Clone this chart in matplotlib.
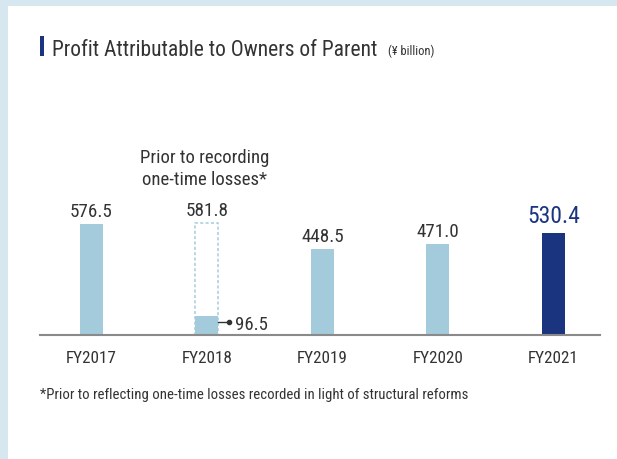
import matplotlib
matplotlib.use("Agg")
import matplotlib.pyplot as plt
from matplotlib.patches import Rectangle

categories = ["FY2017", "FY2018", "FY2019", "FY2020", "FY2021"]
values = [576.5, 96.5, 448.5, 471.0, 530.4]
prior_fy2018 = 581.8
title = "Profit Attributable to Owners of Parent"
unit = "(¥ billion)"
note_prior = "Prior to recording\none-time losses*"
footnote = "*Prior to reflecting one-time losses recorded in light of structural reforms"

plt.rcParams['font.family'] = ["Roboto Condensed", 'DejaVu Sans']

W, H = 617, 460
fig = plt.figure(figsize=(W / 100, H / 100), dpi=100)
fig.patch.set_facecolor("#d6e7f0")
fig.patches.append(Rectangle((8 / W, 0), 1, 1 - 7 / H, transform=fig.transFigure,
                             facecolor="white", edgecolor="none", zorder=-10))
# title marker
fig.patches.append(Rectangle((40 / W, 1 - 57 / H), 4 / W, 20 / H, transform=fig.transFigure,
                             facecolor="#1b3480", edgecolor="none", zorder=-5))
txt = "#333333"
fig.text(52 / W, 1 - 56 / H, title, fontsize=15.5, color=txt, va="baseline", ha="left")
fig.text(388 / W, 1 - 55.5 / H, unit, fontsize=9, color=txt, va="baseline", ha="left")

light = "#a4cbdc"
dark = "#1b3480"

cx0 = 91.5
step = 115.45
base = 335.7
pxu = 110.7 / 576.5
x0 = (40.5 - cx0) / step
x1 = (600 - cx0) / step
ymax = 700
ax = fig.add_axes([40.5 / W, 1 - base / H, (600 - 40.5) / W, ymax * pxu / H])
ax.set_zorder(5)
ax.set_xlim(x0, x1)
ax.set_ylim(0, ymax)
ax.set_facecolor("none")
for s in ["top", "right", "left"]:
    ax.spines[s].set_visible(False)
ax.spines["bottom"].set_color("#8a8a8a")
ax.spines["bottom"].set_linewidth(1.5)
ax.set_yticks([])
ax.set_xticks(range(len(categories)))
ax.set_xticklabels(categories, fontsize=12.3, color=txt)
ax.tick_params(axis="x", length=0, pad=11)

bw = 0.2
colors = [light, light, light, light, dark]
ax.bar(range(len(categories)), values, width=bw, color=colors, zorder=2)
# dashed outline for FY2018 prior value
ax.bar(1, prior_fy2018, width=bw, facecolor="none", edgecolor=light,
       linestyle=(0, (2, 1.5)), linewidth=1.1, zorder=1)

for i, v in enumerate(values):
    if i == 1:
        continue
    if i == len(values) - 1:
        ax.annotate(f"{v:.1f}", (i, v), xytext=(0, 8), textcoords="offset points",
                    ha="center", va="baseline", fontsize=17, color=dark)
    else:
        ax.annotate(f"{v:.1f}", (i, v), xytext=(0, 5.8), textcoords="offset points",
                    ha="center", va="baseline", fontsize=13.8, color=txt)

ax.annotate(f"{prior_fy2018:.1f}", (1, prior_fy2018), xytext=(0, 5.8), textcoords="offset points",
            ha="center", va="baseline", fontsize=13.8, color=txt)
ax.annotate(note_prior, (1, prior_fy2018), xytext=(-1.5, 25.5), textcoords="offset points",
            ha="center", va="bottom", fontsize=13.5, color=txt, linespacing=1.22)

# 96.5 callout
yv = values[1] * 0.66
ax.plot([1 + bw / 2, 1 + 0.188], [yv, yv], color=txt, lw=1, zorder=3)
ax.plot([1 + 0.188], [yv], marker="o", ms=3, color=txt, zorder=3)
ax.text(1 + 0.243, values[1] * 0.31, f"{values[1]:.1f}", ha="left", va="baseline",
        fontsize=13.5, color=txt)

fig.text(40 / W, 1 - 395.5 / H, footnote, fontsize=10.6, color=txt, va="center", ha="left")

fig.savefig("out.png", dpi=100, facecolor=fig.get_facecolor())
